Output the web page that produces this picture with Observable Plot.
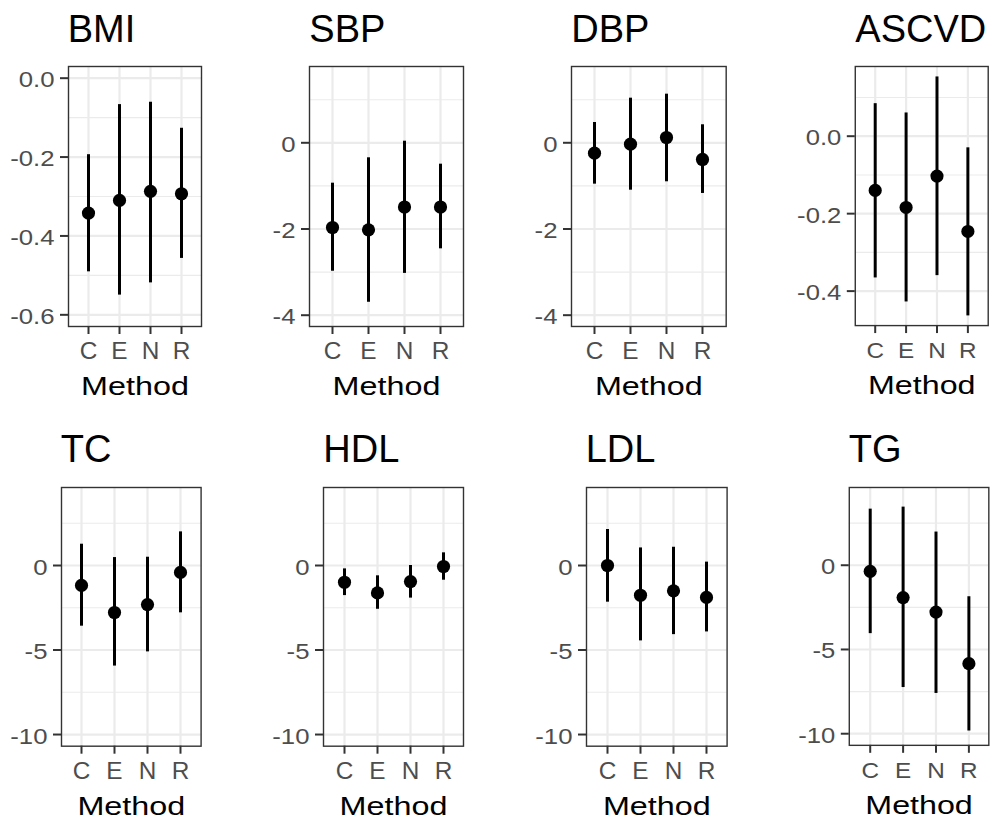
<!DOCTYPE html>
<html>
<head>
<meta charset="utf-8">
<script src="https://cdn.jsdelivr.net/npm/d3@7"></script>
<script src="https://cdn.jsdelivr.net/npm/@observablehq/plot@0.6"></script>
<style>
  html, body { margin: 0; padding: 0; background: #fff; overflow: hidden; }
  #root { position: relative; width: 992px; height: 821px; background: #fff; font-family: "Liberation Sans", Arial, sans-serif; }
  .panel { position: absolute; }
  .ptitle { position: absolute; font-size: 38px; line-height: normal; color: #000; white-space: nowrap; font-family: "Liberation Sans", Arial, sans-serif; }
</style>
</head>
<body>
<div id="root"></div>
<script>
// ---- data ----
const methods = ["C", "E", "N", "R"];
const outcomes = ["BMI", "SBP", "DBP", "ASCVD", "TC", "HDL", "LDL", "TG"];
const axisTitle = "Method";

const bmiEst = [-0.342, -0.310, -0.287, -0.293];
const bmiLower = [-0.491, -0.550, -0.519, -0.457];
const bmiUpper = [-0.194, -0.067, -0.061, -0.127];

const sbpEst = [-1.965, -2.02, -1.49, -1.49];
const sbpLower = [-2.98, -3.70, -3.03, -2.46];
const sbpUpper = [-0.937, -0.348, 0.037, -0.496];

const dbpEst = [-0.241, -0.032, 0.123, -0.387];
const dbpLower = [-0.96, -1.10, -0.905, -1.176];
const dbpUpper = [0.471, 1.035, 1.128, 0.418];

const ascvdEst = [-0.140, -0.184, -0.103, -0.246];
const ascvdLower = [-0.366, -0.428, -0.360, -0.464];
const ascvdUpper = [0.084, 0.060, 0.153, -0.030];

const tcEst = [-1.18, -2.78, -2.31, -0.41];
const tcLower = [-3.59, -5.95, -5.11, -2.80];
const tcUpper = [1.26, 0.47, 0.49, 1.99];

const hdlEst = [-0.99, -1.62, -0.95, -0.06];
const hdlLower = [-1.78, -2.59, -1.93, -0.87];
const hdlUpper = [-0.20, -0.61, 0.0, 0.75];

const ldlEst = [0.0, -1.76, -1.50, -1.89];
const ldlLower = [-2.17, -4.46, -4.09, -3.93];
const ldlUpper = [2.13, 1.04, 1.08, 0.20];

const tgEst = [-0.36, -1.92, -2.78, -5.84];
const tgLower = [-4.06, -7.26, -7.61, -9.84];
const tgUpper = [3.33, 3.45, 1.97, -1.87];

// tick values (labels) and axis limits
const bmiTicks = [0, -0.2, -0.4, -0.6];
const bpTicks = [0, -2, -4];
const ascvdTicks = [0, -0.2, -0.4];
const lipidTicks = [0, -5, -10];

const bmiLimits = [-0.6296, 0.0296];
const bpLimits = [-4.262, 1.770];
const ascvdLimits = [-0.489, 0.180];
const lipidLimits = [-10.69, 4.615];

// ---- panel specs ----
const panels = [
  {est: bmiEst, lo: bmiLower, hi: bmiUpper, ticks: bmiTicks, limits: bmiLimits, dec: 1},
  {est: sbpEst, lo: sbpLower, hi: sbpUpper, ticks: bpTicks, limits: bpLimits, dec: 0},
  {est: dbpEst, lo: dbpLower, hi: dbpUpper, ticks: bpTicks, limits: bpLimits, dec: 0},
  {est: ascvdEst, lo: ascvdLower, hi: ascvdUpper, ticks: ascvdTicks, limits: ascvdLimits, dec: 1},
  {est: tcEst, lo: tcLower, hi: tcUpper, ticks: lipidTicks, limits: lipidLimits, dec: 0},
  {est: hdlEst, lo: hdlLower, hi: hdlUpper, ticks: lipidTicks, limits: lipidLimits, dec: 0},
  {est: ldlEst, lo: ldlLower, hi: ldlUpper, ticks: lipidTicks, limits: lipidLimits, dec: 0},
  {est: tgEst, lo: tgLower, hi: tgUpper, ticks: lipidTicks, limits: lipidLimits, dec: 0}
];

// layout: panel frame rectangles [x0, x1, y0, y1]
const layout = [
  [67.7, 200.7, 66, 326], [309.3, 463.3, 66, 326], [571.3, 726, 66, 326], [855.3, 988.7, 66, 326],
  [60.7, 200.3, 487.3, 746], [323.3, 463.3, 487.3, 746], [585.7, 726.3, 487.3, 746], [848.7, 988.7, 487.3, 746]
];

const ML = 66, MR = 4, MT = 4, MB = 84;
const root = document.getElementById("root");

function fmt(dec) {
  return d => (d < 0 ? "-" : "") + Math.abs(d).toFixed(dec);
}

// horizontally widen text around its anchor point (reference glyphs are wider), optional vertical nudge
function stretch(nodes, s, dy = 0) {
  nodes.forEach(t => {
    const x = +(t.getAttribute("x") || 0);
    const tr = t.getAttribute("transform") || "";
    t.setAttribute("transform", `${tr} translate(${x},${dy}) scale(${s},1) translate(${-x},0)`);
  });
}

panels.forEach((p, k) => {
  const [x0, x1, y0, y1] = layout[k];
  const data = methods.map((m, i) => ({method: m, est: p.est[i], lo: p.lo[i], hi: p.hi[i]}));
  const step = p.ticks[0] - p.ticks[1];
  const minors = [];
  for (let v = p.ticks[p.ticks.length - 1] - step / 2; v <= p.limits[1]; v += step) {
    if (v >= p.limits[0]) minors.push(+v.toFixed(6));
  }
  const chart = Plot.plot({
    width: (x1 - x0) + ML + MR,
    height: (y1 - y0) + MT + MB,
    marginLeft: ML, marginRight: MR, marginTop: MT, marginBottom: MB,
    style: {fontFamily: "'Liberation Sans', Arial, sans-serif", background: "transparent", overflow: "visible"},
    x: {type: "point", domain: methods, padding: 0.6, align: 0.5},
    y: {type: "linear", domain: p.limits},
    marks: [
      Plot.ruleY(minors, {stroke: "#ebebeb", strokeWidth: 1.1}),
      Plot.ruleY(p.ticks, {stroke: "#ebebeb", strokeWidth: 2.2}),
      Plot.ruleX(methods, {stroke: "#ebebeb", strokeWidth: 2.2}),
      Plot.ruleX(data, {x: "method", y1: "lo", y2: "hi", stroke: "#000", strokeWidth: 3}),
      Plot.dot(data, {x: "method", y: "est", r: 6.6, fill: "#000", stroke: "none"}),
      Plot.frame({stroke: "#333", strokeWidth: 1.4}),
      Plot.axisY({ticks: p.ticks, tickFormat: fmt(p.dec), tickSize: 8, tickPadding: 6, stroke: "#333", strokeWidth: 2, fill: "#4d4d4d", fontSize: 22, label: null}),
      Plot.axisX({tickSize: 8, tickPadding: 8, stroke: "#333", strokeWidth: 2, fill: "#4d4d4d", fontSize: 23, label: null}),
      Plot.text([axisTitle], {text: d => d, frameAnchor: "bottom", lineAnchor: "middle", dy: 60.5, fontSize: 26.5, fill: "#000"})
    ]
  });
  stretch(chart.querySelectorAll('g[aria-label="y-axis tick label"] text'), 1.17, 2);
  stretch(chart.querySelectorAll('g[aria-label="x-axis tick label"] text'), 1.06);
  stretch(Array.from(chart.querySelectorAll("text")).filter(t => t.textContent === axisTitle), 1.22);

  const wrap = document.createElement("div");
  wrap.className = "panel";
  wrap.style.left = (x0 - ML) + "px";
  wrap.style.top = (y0 - MT) + "px";
  wrap.appendChild(chart);
  root.appendChild(wrap);

  const title = document.createElement("div");
  title.className = "ptitle";
  title.textContent = outcomes[k];
  const baseline = k < 4 ? y0 - 23.5 : y0 - 24.6;
  title.style.left = x0 + "px";
  title.style.top = (baseline - 0.905 * 38) + "px";
  root.appendChild(title);
});
</script>
</body>
</html>
